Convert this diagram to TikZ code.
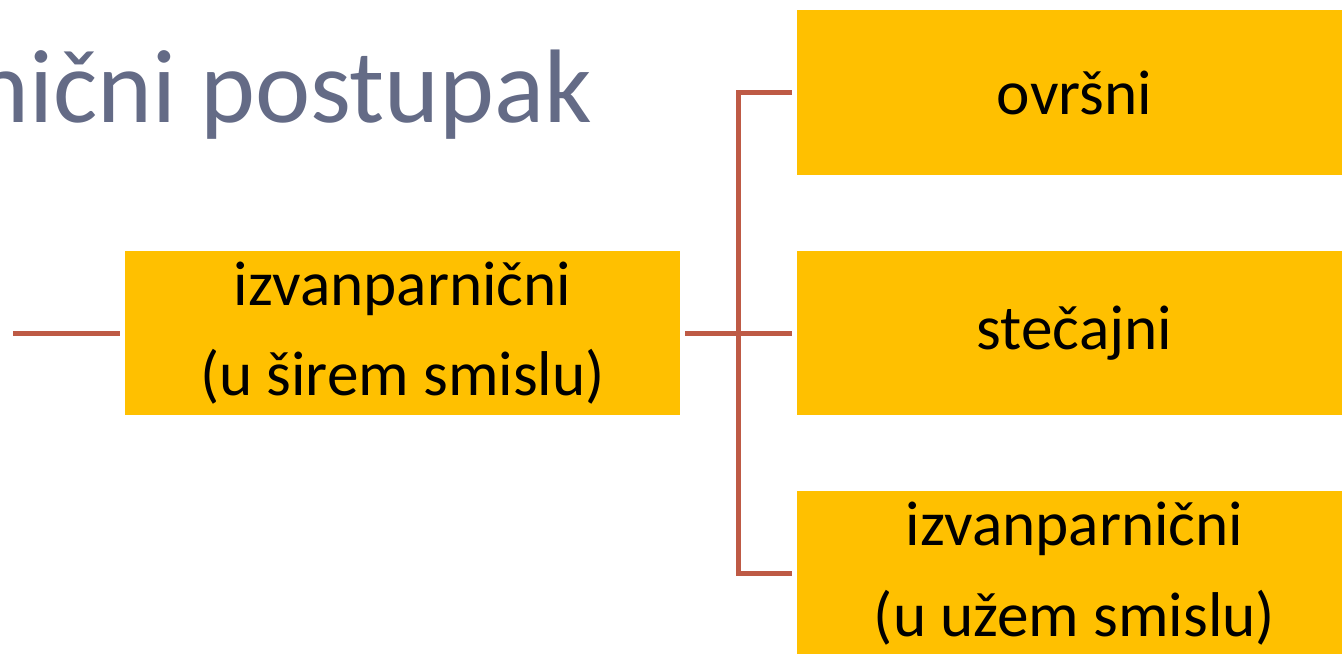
\documentclass[tikz,border=0pt]{standalone}
\usepackage{fontspec}
\setmainfont{Carlito}
\definecolor{color_box_bg}{HTML}{FFC000}
\definecolor{color_link}{HTML}{BE5A45}
\definecolor{color_title}{HTML}{646B86}
\def\boxwidth{11.1cm}
\def\boxheight{3.3cm}
\def\linkwidth{0.1cm}
\def\boxgap{0.11cm}
\def\boxfontsize{\fontsize{36}{51.6}\selectfont}
\def\titlefontsize{\fontsize{59.5}{70}\selectfont}
\tikzset{
    procbox/.style={fill=color_box_bg, minimum width=\boxwidth, minimum height=\boxheight,
        inner sep=0pt, outer sep=\boxgap, align=center, font=\boxfontsize},
    link/.style={color_link, line width=\linkwidth}
}

\begin{document}
\begin{tikzpicture}[x=0.02cm,y=-0.02cm]
        \clip (0,0) rectangle (1342,653);
        % title, cut at the left edge
        \node[anchor=base east, text=color_title, font=\titlefontsize, inner sep=0pt] (title) at (593,122) {nični postupak};
        % boxes
        \node[procbox] (wide) at (402.5,333) {izvanparnični\\(u širem smislu)};
        \node[procbox] (enforce) at (1074.5,92.5) {ovršni};
        \node[procbox] (bankrupt) at (1074.5,333) {stečajni};
        \node[procbox] (narrow) at (1074.5,573.5) {izvanparnični\\(u užem smislu)};
        % links
        \coordinate (start) at (13,333);
        \coordinate (fork) at (738,333);
        \draw[link] (start) -- (wide.west);
        \draw[link] (wide.east) -- (bankrupt.west);
        \draw[link] (enforce.west) -| (fork) |- (narrow.west);
    \end{tikzpicture}
\end{document}
